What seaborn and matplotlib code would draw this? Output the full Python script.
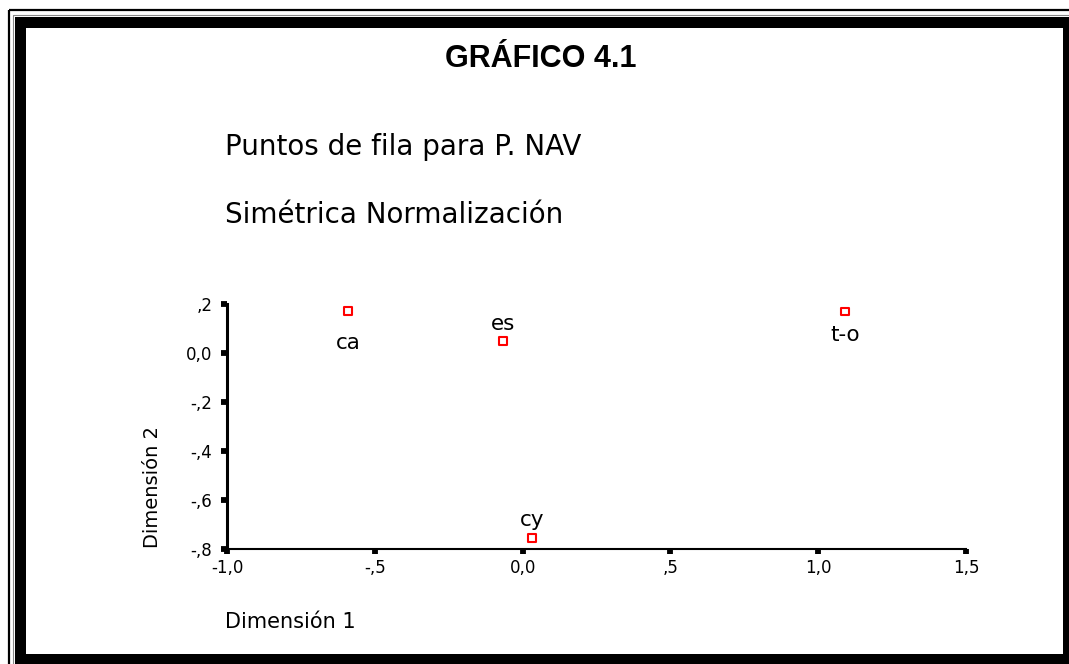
import matplotlib
matplotlib.use("Agg")
import matplotlib.pyplot as plt
from matplotlib.patches import Rectangle
from matplotlib.lines import Line2D
import seaborn as sns
import pandas as pd

# ---- data ----
labels = ["ca", "es", "t-o", "cy"]
dim1 = [-0.59, -0.066, 1.09, 0.032]
dim2 = [0.172, 0.048, 0.170, -0.754]

xticks = [-1.0, -0.5, 0.0, 0.5, 1.0, 1.5]
xticklabels = ["-1,0", "-,5", "0,0", ",5", "1,0", "1,5"]
yticks = [-0.8, -0.6, -0.4, -0.2, 0.0, 0.2]
yticklabels = ["-,8", "-,6", "-,4", "-,2", "0,0", ",2"]

title = "GRÁFICO 4.1"
subtitle1 = "Puntos de fila para P. NAV"
subtitle2 = "Simétrica Normalización"
xlabel = "Dimensión 1"
ylabel = "Dimensión 2"

# label offsets (pixels) relative to marker centre: (dx, dy baseline)
label_offsets = [(0, -38), (0, 11), (0, -30), (0, 11.5)]

# ---- figure ----
sns.set_style("white")
plt.rcParams["font.family"] = ["DejaVu Sans"]

W, H = 1069, 664
fig = plt.figure(figsize=(W / 100, H / 100), dpi=100)
fig.patch.set_facecolor("white")

def fx(px):
    return px / W

def fy(py):
    return 1 - py / H

ax = fig.add_axes([fx(227), fy(549), (966 - 227) / W, (549 - 304) / H])
ax.set_facecolor("none")

df = pd.DataFrame({"d1": dim1, "d2": dim2, "lab": labels})
sns.scatterplot(data=df, x="d1", y="d2", ax=ax, marker="s", s=30,
                color="red", facecolor="none", edgecolor="#ff0000",
                linewidth=1.5, clip_on=False, zorder=5)

ax.set_xlim(-1.0, 1.5)
ax.set_ylim(-0.8, 0.2)
ax.set_xticks(xticks)
ax.set_xticklabels(xticklabels)
ax.set_yticks(yticks)
ax.set_yticklabels(yticklabels)
ax.set_xlabel("")
ax.set_ylabel("")

for side in ["top", "right"]:
    ax.spines[side].set_visible(False)
ax.spines["left"].set_linewidth(2.2)
ax.spines["bottom"].set_linewidth(1.5)
ax.spines["left"].set_color("black")
ax.spines["bottom"].set_color("black")

ax.tick_params(axis="y", direction="out", length=4, width=4.2, color="black",
               pad=6.5, labelsize=12, labelcolor="black", left=True)
ax.tick_params(axis="x", direction="out", length=3.5, width=4.2, color="black",
               pad=3.5, labelsize=12, labelcolor="black", bottom=True)

for lab, x, y, (dx, dy) in zip(labels, dim1, dim2, label_offsets):
    ax.annotate(lab, (x, y), xytext=(dx * 0.72, dy * 0.72),
                textcoords="offset points", ha="center", va="baseline",
                fontsize=15.5, color="black", annotation_clip=False)

# ---- texts ----
fig.text(fx(541), fy(67), title, ha="center", va="baseline",
         fontsize=22, fontweight="bold", color="black",
         family=["Liberation Sans", "DejaVu Sans"])
fig.text(fx(225), fy(155), subtitle1, ha="left", va="baseline",
         fontsize=20, color="black")
fig.text(fx(225), fy(223), subtitle2, ha="left", va="baseline",
         fontsize=20, color="black")
fig.text(fx(225), fy(628), xlabel, ha="left", va="baseline",
         fontsize=15, color="black")
fig.text(fx(153), fy(487), ylabel, ha="center", va="center",
         rotation=90, fontsize=14, color="black")

# ---- frame ----
tf = fig.transFigure
fig.patches.append(Rectangle((fx(19.5), fy(658.5)), fx(1067.5) - fx(19.5),
                             fy(21.5) - fy(658.5), transform=tf, fill=False,
                             edgecolor="black", linewidth=11 * 0.72,
                             joinstyle="miter"))
fig.lines.append(Line2D([fx(8.5), fx(8.5)], [fy(10), fy(664)], transform=tf,
                        color="black", linewidth=1.6, solid_capstyle="butt"))
fig.lines.append(Line2D([fx(8.5), fx(1069)], [fy(10), fy(10)], transform=tf,
                        color="black", linewidth=1.6, solid_capstyle="butt"))
fig.lines.append(Line2D([fx(12.5), fx(12.5)], [fy(14.5), fy(664)], transform=tf,
                        color="#888888", linewidth=0.8))
fig.lines.append(Line2D([fx(12.5), fx(1069)], [fy(14.5), fy(14.5)], transform=tf,
                        color="#888888", linewidth=0.8))

fig.savefig("out.png", dpi=100, facecolor="white")
